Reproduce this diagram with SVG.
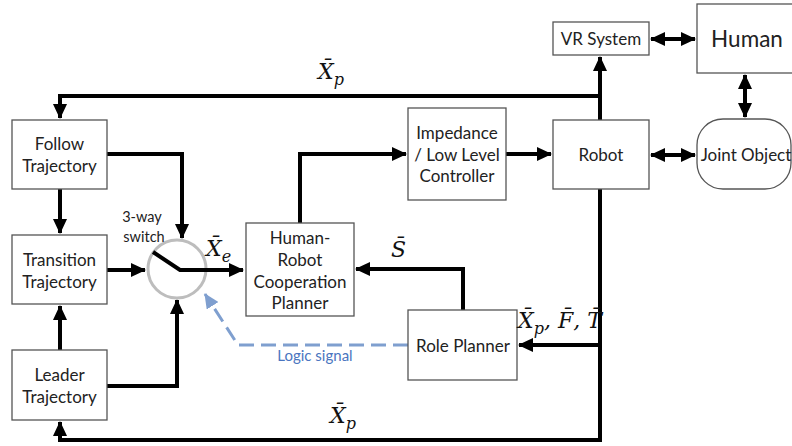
<svg xmlns="http://www.w3.org/2000/svg" width="792" height="446" viewBox="0 0 792 446">
<defs>
<style>
.box{fill:#fff;stroke:#555;stroke-width:1.3}
.t{font-family:Lato,"Liberation Sans",sans-serif;font-size:17px;fill:#222;text-anchor:middle}
.s{font-size:14.5px}
.h{font-size:22.5px}
.m{font-family:"DejaVu Serif","Liberation Serif",serif;font-style:italic;font-size:22px;fill:#111}
.sub{font-size:16px}
.w{fill:none;stroke:#000;stroke-width:4;stroke-linejoin:miter}
</style>
<marker id="a" markerUnits="userSpaceOnUse" markerWidth="15" markerHeight="14" refX="14" refY="7" orient="auto-start-reverse" viewBox="0 0 15 14">
<path d="M0,0 L15,7 L0,14 z" fill="#000"/>
</marker>
<marker id="b" markerUnits="userSpaceOnUse" markerWidth="15" markerHeight="14" refX="14" refY="7" orient="auto" viewBox="0 0 15 14">
<path d="M0,0 L15,7 L0,14 z" fill="#7f9fcf"/>
</marker>
</defs>

<g id="connectors">
<path class="w" d="M600,96 L60,96 L60,118" marker-end="url(#a)"/>
<path class="w" d="M600,120 L600,57" marker-end="url(#a)"/>
<path class="w" d="M107,154 L182,154 L182,238" marker-end="url(#a)"/>
<path class="w" d="M60,189 L60,233" marker-end="url(#a)"/>
<path class="w" d="M60,350 L60,306" marker-end="url(#a)"/>
<path class="w" d="M107,270 L145,270" marker-end="url(#a)"/>
<path class="w" d="M107,386 L177,386 L177,300" marker-end="url(#a)"/>
<path class="w" d="M300,223 L300,154 L406,154" marker-end="url(#a)"/>
<path class="w" d="M506,154 L551,154" marker-end="url(#a)"/>
<path class="w" d="M651,155 L695,155" marker-start="url(#a)" marker-end="url(#a)"/>
<path class="w" d="M651,39 L695,39" marker-start="url(#a)" marker-end="url(#a)"/>
<path class="w" d="M745,75 L745,117" marker-start="url(#a)" marker-end="url(#a)"/>
<path class="w" d="M600,189 L600,440 L60,440 L60,422" marker-end="url(#a)"/>
<path class="w" d="M600,345 L519,345" marker-end="url(#a)"/>
<path class="w" d="M463,310 L463,269 L356,269" marker-end="url(#a)"/>
<path d="M408,345 L238,345 L205,294" fill="none" stroke="#7f9fcf" stroke-width="3" stroke-dasharray="15,7" marker-end="url(#b)"/>
</g>

<g id="switch">
<circle cx="177" cy="269" r="29" fill="#fff" stroke="#bdbdbd" stroke-width="3"/>
<path class="w" d="M153,252 L180,270 L243,270" marker-end="url(#a)"/>
<text class="t s" x="142" y="222">3-way</text>
<text class="t s" x="144" y="242">switch</text>
</g>

<g id="follow">
<rect class="box" x="12" y="120" width="95" height="69"/>
<text class="t" x="59.5" y="150">Follow</text>
<text class="t" x="59.5" y="172">Trajectory</text>
</g>
<g id="transition">
<rect class="box" x="12" y="235" width="95" height="69"/>
<text class="t" x="59.5" y="266">Transition</text>
<text class="t" x="59.5" y="288">Trajectory</text>
</g>
<g id="leader">
<rect class="box" x="12" y="350" width="95" height="70"/>
<text class="t" x="59.5" y="381">Leader</text>
<text class="t" x="59.5" y="403">Trajectory</text>
</g>
<g id="hrc">
<rect class="box" x="246" y="223" width="108" height="93"/>
<text class="t" x="300" y="244">Human-</text>
<text class="t" x="300" y="266">Robot</text>
<text class="t" x="300" y="288">Cooperation</text>
<text class="t" x="300" y="309">Planner</text>
</g>
<g id="impedance">
<rect class="box" x="408" y="108" width="98" height="92"/>
<text class="t" x="457" y="139">Impedance</text>
<text class="t" x="457" y="161">/ Low Level</text>
<text class="t" x="457" y="182">Controller</text>
</g>
<g id="robot">
<rect class="box" x="553" y="120" width="96" height="69"/>
<text class="t" x="601" y="161">Robot</text>
</g>
<g id="vr">
<rect class="box" x="553" y="22" width="96" height="33"/>
<text class="t" x="601" y="45">VR System</text>
</g>
<g id="human">
<rect class="box" x="697" y="4" width="110" height="69"/>
<text class="t h" x="747" y="47">Human</text>
</g>
<g id="joint">
<rect class="box" x="697" y="119" width="94" height="70" rx="26" ry="26"/>
<text class="t" x="746" y="161">Joint Object</text>
</g>
<g id="role">
<rect class="box" x="408" y="310" width="109" height="70"/>
<text class="t" x="463" y="352">Role Planner</text>
</g>

<g id="labels">
<text class="m" x="318" y="79">X̄<tspan class="sub" dy="6">p</tspan></text>
<text class="m" x="330" y="423">X̄<tspan class="sub" dy="6">p</tspan></text>
<text class="m" x="206" y="256">X̄<tspan class="sub" dy="6">e</tspan></text>
<text class="m" x="391" y="257">S̄</text>
<text class="m" x="518" y="328">X̄<tspan class="sub" dy="6">p</tspan><tspan dy="-6">, F̄, T̄</tspan></text>
<text x="315" y="361" font-family="Lato,'Liberation Sans',sans-serif" font-size="15" fill="#4a75c0" text-anchor="middle">Logic signal</text>
</g>
</svg>
